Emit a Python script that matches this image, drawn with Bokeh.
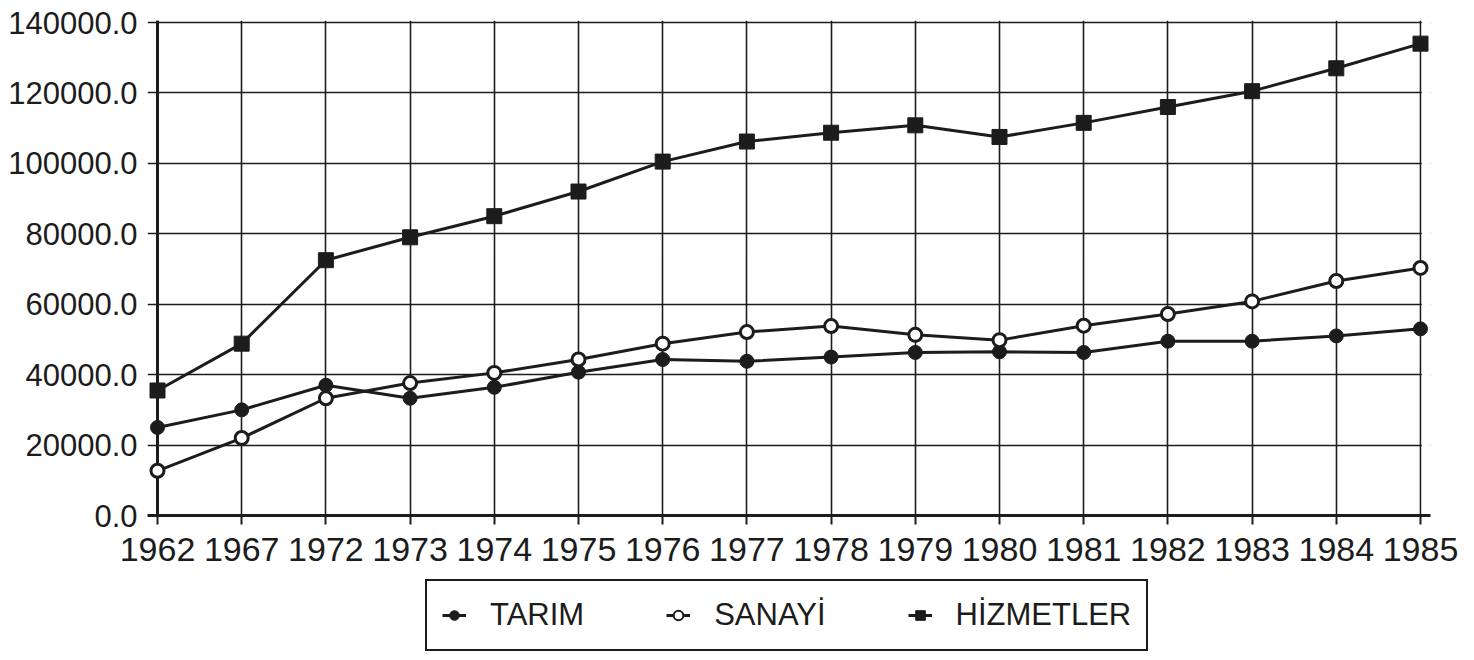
from bokeh.plotting import figure
from bokeh.layouts import column
from bokeh.models import (Range1d, FixedTicker, NumeralTickFormatter, Span,
                          Legend, LegendItem, BoxAnnotation)
from bokeh.embed import file_html
from bokeh.resources import INLINE

# ---- data ----
years = ["1962", "1967", "1972", "1973", "1974", "1975", "1976", "1977",
         "1978", "1979", "1980", "1981", "1982", "1983", "1984", "1985"]
tarim = [25000, 30000, 37000, 33300, 36400, 40700, 44300, 43800,
         45000, 46300, 46500, 46300, 49500, 49500, 51000, 53000]
sanayi = [12700, 22000, 33300, 37600, 40500, 44300, 48800, 52100,
          53800, 51300, 49800, 53900, 57200, 60800, 66600, 70300]
hizmetler = [35500, 48800, 72500, 79000, 85000, 92000, 100500, 106200,
             108700, 110800, 107500, 111500, 116000, 120500, 127000, 134000]
y_ticks = [0, 20000, 40000, 60000, 80000, 100000, 120000, 140000]
series_names = ["TARIM", "SANAYİ", "HİZMETLER"]

x = list(range(len(years)))
INK = "#1c1c1c"
FONT = "Liberation Sans"

W = 1458
H1, H2 = 576, 76
PAD = 0.1188
LEFT = 147

p = figure(width=W, height=H1, output_backend="svg", toolbar_location=None,
           x_range=Range1d(-PAD, len(years) - 1 + PAD),
           y_range=Range1d(0, 140570),
           min_border_left=LEFT, min_border_right=28,
           min_border_top=20, min_border_bottom=61)

p.outline_line_color = None
p.background_fill_color = "white"
p.border_fill_color = "white"

# grids
p.xgrid.ticker = FixedTicker(ticks=x)
p.ygrid.ticker = FixedTicker(ticks=y_ticks)
for g in (p.xgrid, p.ygrid):
    g.grid_line_color = INK
    g.grid_line_width = 1.6
    g.grid_line_alpha = 1.0

# hide grid overhang past the last category
p.add_layout(BoxAnnotation(left=len(years) - 1 + 0.015, fill_color="white",
                           fill_alpha=1.0, line_color=None, level="underlay"))
# thick left axis line at first category
p.add_layout(Span(location=0, dimension="height", line_color=INK,
                  line_width=3, level="underlay"))

# x axis
xa = p.xaxis[0]
xa.ticker = FixedTicker(ticks=x)
xa.major_label_overrides = {i: y for i, y in enumerate(years)}
xa.axis_line_color = INK
xa.axis_line_width = 3
xa.major_tick_line_color = INK
xa.major_tick_line_width = 2
xa.major_tick_in = 0
xa.major_tick_out = 9
xa.minor_tick_line_color = None
xa.major_label_text_font = FONT
xa.major_label_text_font_size = "34px"
xa.major_label_text_color = INK
xa.major_label_standoff = 13

# y axis
ya = p.yaxis[0]
ya.ticker = FixedTicker(ticks=y_ticks)
ya.formatter = NumeralTickFormatter(format="0.0")
ya.axis_line_color = None
ya.major_tick_line_color = None
ya.major_tick_in = 0
ya.major_tick_out = 0
ya.minor_tick_line_color = None
ya.major_label_text_font = FONT
ya.major_label_text_font_size = "31px"
ya.major_label_text_color = INK
ya.major_label_standoff = 10

# series
p.line(x, tarim, line_width=3, line_color=INK)
p.scatter(x, tarim, marker="circle", size=14, fill_color=INK,
          line_color=INK, line_width=1)
p.line(x, sanayi, line_width=3, line_color=INK)
p.scatter(x, sanayi, marker="circle", size=13, fill_color="white",
          line_color=INK, line_width=3)
p.line(x, hizmetler, line_width=3, line_color=INK)
p.scatter(x, hizmetler, marker="square", size=15, fill_color=INK,
          line_color=INK, line_width=1)

# ---- legend strip (separate figure so the box is not clipped) ----
q = figure(width=W, height=H2, output_backend="svg", toolbar_location=None,
           x_range=Range1d(0, 1), y_range=Range1d(0, 1),
           x_axis_location=None, y_axis_location=None,
           min_border_left=0, min_border_right=0,
           min_border_top=0, min_border_bottom=0)
q.outline_line_color = None
q.grid.visible = False
q.background_fill_color = "white"
q.border_fill_color = "white"

try:
    p.frame_align = False
    q.frame_align = False
    legend_x = 425
except Exception:
    legend_x = 425 - LEFT

# legend-only renderers: one point placed outside the visible range
off = [-5]
k1 = q.line(off, off, line_width=3, line_color=INK)
m1 = q.scatter(off, off, marker="circle", fill_color=INK, line_color=INK)
k2 = q.line(off, off, line_width=3, line_color=INK)
m2 = q.scatter(off, off, marker="circle", fill_color="white", line_color=INK,
               line_width=2)
k3 = q.line(off, off, line_width=3, line_color=INK)
m3 = q.scatter(off, off, marker="square", fill_color=INK, line_color=INK)

legend = Legend(items=[LegendItem(label=series_names[0], renderers=[k1, m1]),
                       LegendItem(label=series_names[1], renderers=[k2, m2]),
                       LegendItem(label=series_names[2], renderers=[k3, m3])],
                orientation="horizontal", location=(legend_x, 1),
                label_text_font=FONT, label_text_font_size="31px",
                label_text_color=INK,
                glyph_width=24, glyph_height=38, label_height=38,
                label_standoff=24, spacing=82, padding=15, margin=0,
                border_line_color=INK, border_line_width=2,
                border_line_alpha=1.0,
                background_fill_color="white", background_fill_alpha=1.0)
q.add_layout(legend)

layout = column(p, q, spacing=0)
open("out.html", "w").write(file_html(layout, INLINE))
